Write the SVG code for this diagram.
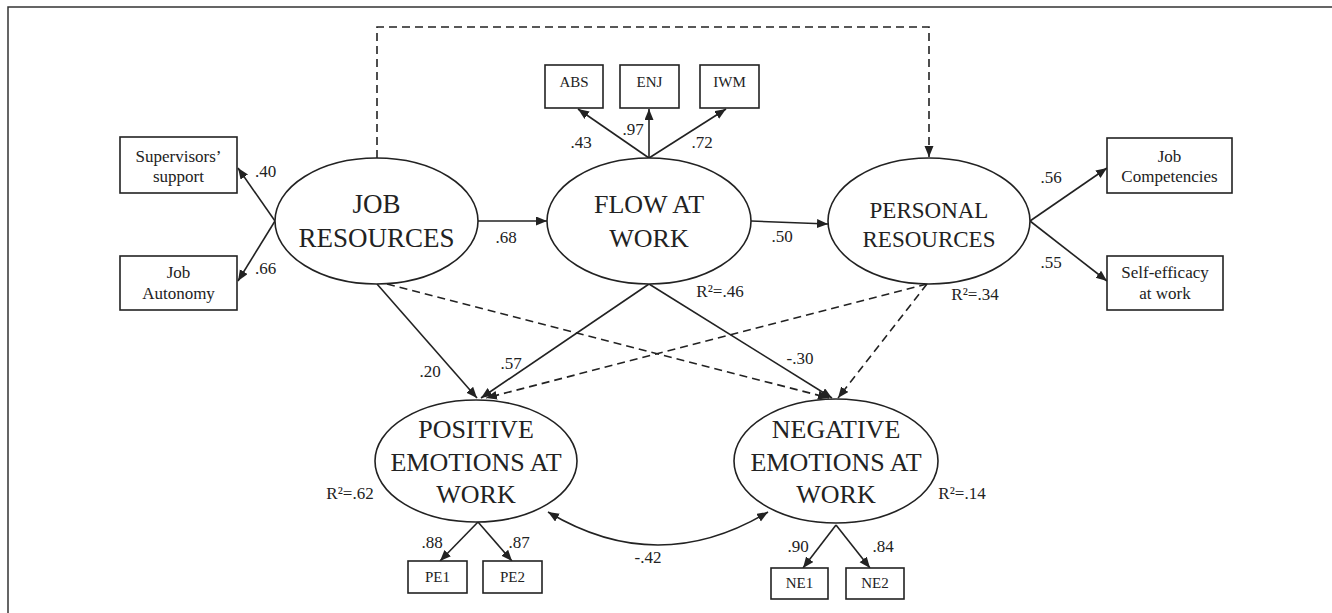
<svg xmlns="http://www.w3.org/2000/svg" width="1332" height="613" viewBox="0 0 1332 613" font-family="'Liberation Serif', 'Times New Roman', Times, 'DejaVu Serif', serif">
<style>
  .frame{stroke:#333;stroke-width:1.5;fill:none}
  .box{fill:#fff;stroke:#222;stroke-width:1.6}
  .ell{fill:#fff;stroke:#222;stroke-width:1.6}
  .ln{stroke:#222;stroke-width:1.6;fill:none}
  .dash{stroke:#222;stroke-width:1.6;fill:none;stroke-dasharray:8 5}
  text{fill:#222;text-anchor:middle}
  .big{font-size:26px}
  .jr{font-size:27px}
  .pr{font-size:23px}
  .bt{font-size:17px}
  .sm{font-size:15px}
  .lab{font-size:17px}
</style>
<defs>
  <marker id="ah" markerUnits="userSpaceOnUse" markerWidth="12" markerHeight="10" refX="11" refY="4.5" orient="auto-start-reverse">
    <path d="M0,0 L11,4.5 L0,9 z" fill="#222"/>
  </marker>
</defs>
<rect width="1332" height="613" fill="#fff"/>
<path class="frame" d="M8,613 L8,7 L1332,7"/>

<g id="connectors">
  <path class="dash" d="M377,158 L377,27 L929,27 L929,157" marker-end="url(#ah)"/>
  <line class="ln" x1="275" y1="221" x2="238" y2="168" marker-end="url(#ah)"/>
  <line class="ln" x1="275" y1="221" x2="238" y2="281" marker-end="url(#ah)"/>
  <line class="ln" x1="649" y1="158" x2="578" y2="109" marker-end="url(#ah)"/>
  <line class="ln" x1="649" y1="158" x2="649" y2="109" marker-end="url(#ah)"/>
  <line class="ln" x1="649" y1="158" x2="726" y2="109" marker-end="url(#ah)"/>
  <line class="ln" x1="478" y1="221" x2="547" y2="221" marker-end="url(#ah)"/>
  <line class="ln" x1="751" y1="221" x2="828" y2="224" marker-end="url(#ah)"/>
  <line class="ln" x1="1030" y1="221" x2="1107" y2="168" marker-end="url(#ah)"/>
  <line class="ln" x1="1030" y1="221" x2="1107" y2="281" marker-end="url(#ah)"/>
  <line class="ln" x1="377" y1="284" x2="477" y2="398" marker-end="url(#ah)"/>
  <line class="ln" x1="649" y1="284" x2="481" y2="398" marker-end="url(#ah)"/>
  <line class="dash" x1="927" y1="284" x2="486" y2="398" marker-end="url(#ah)"/>
  <line class="dash" x1="387" y1="284" x2="829" y2="398" marker-end="url(#ah)"/>
  <line class="ln" x1="649" y1="284" x2="832" y2="398" marker-end="url(#ah)"/>
  <line class="dash" x1="927" y1="284" x2="838" y2="398" marker-end="url(#ah)"/>
  <path class="ln" d="M548,512 Q658,578 768,512" marker-start="url(#ah)" marker-end="url(#ah)"/>
  <line class="ln" x1="478" y1="522" x2="440" y2="561" marker-end="url(#ah)"/>
  <line class="ln" x1="478" y1="522" x2="512" y2="561" marker-end="url(#ah)"/>
  <line class="ln" x1="836" y1="525" x2="803" y2="568" marker-end="url(#ah)"/>
  <line class="ln" x1="836" y1="525" x2="870" y2="568" marker-end="url(#ah)"/>
</g>

<g id="supervisors-support">
  <rect class="box" x="120" y="137" width="117" height="56"/>
  <text class="bt" x="178.5" y="162">Supervisors’</text>
  <text class="bt" x="178.5" y="182">support</text>
</g>
<g id="job-autonomy">
  <rect class="box" x="120" y="256" width="117" height="54"/>
  <text class="bt" x="178.5" y="278">Job</text>
  <text class="bt" x="178.5" y="299">Autonomy</text>
</g>
<g id="job-resources">
  <ellipse class="ell" cx="376.5" cy="221" rx="101.5" ry="63"/>
  <text class="jr" x="376.5" y="213">JOB</text>
  <text class="jr" x="376.5" y="247">RESOURCES</text>
</g>
<g id="abs">
  <rect class="box" x="545" y="65" width="58" height="43"/>
  <text class="sm" x="574" y="87">ABS</text>
</g>
<g id="enj">
  <rect class="box" x="620" y="65" width="59" height="43"/>
  <text class="sm" x="649.5" y="87">ENJ</text>
</g>
<g id="iwm">
  <rect class="box" x="700" y="65" width="59" height="43"/>
  <text class="sm" x="729.5" y="87">IWM</text>
</g>
<g id="flow-at-work">
  <ellipse class="ell" cx="649" cy="221" rx="102" ry="63"/>
  <text class="big" x="649" y="213">FLOW AT</text>
  <text class="big" x="649" y="247">WORK</text>
</g>
<g id="personal-resources">
  <ellipse class="ell" cx="929" cy="221" rx="101" ry="63"/>
  <text class="pr" x="929" y="218">PERSONAL</text>
  <text class="pr" x="929" y="247">RESOURCES</text>
</g>
<g id="job-competencies">
  <rect class="box" x="1107" y="138" width="125" height="55"/>
  <text class="bt" x="1169.5" y="162">Job</text>
  <text class="bt" x="1169.5" y="182">Competencies</text>
</g>
<g id="self-efficacy">
  <rect class="box" x="1107" y="256" width="116" height="54"/>
  <text class="bt" x="1165" y="278">Self-efficacy</text>
  <text class="bt" x="1165" y="299">at work</text>
</g>
<g id="positive-emotions">
  <ellipse class="ell" cx="476" cy="461" rx="101" ry="61"/>
  <text class="big" x="476" y="438">POSITIVE</text>
  <text class="big" x="476" y="471">EMOTIONS AT</text>
  <text class="big" x="476" y="503">WORK</text>
</g>
<g id="negative-emotions">
  <ellipse class="ell" cx="836" cy="461" rx="102" ry="62"/>
  <text class="big" x="836" y="438">NEGATIVE</text>
  <text class="big" x="836" y="471">EMOTIONS AT</text>
  <text class="big" x="836" y="503">WORK</text>
</g>
<g id="pe1">
  <rect class="box" x="408" y="561" width="59" height="32"/>
  <text class="sm" x="437.5" y="582">PE1</text>
</g>
<g id="pe2">
  <rect class="box" x="483" y="561" width="59" height="32"/>
  <text class="sm" x="512.5" y="582">PE2</text>
</g>
<g id="ne1">
  <rect class="box" x="771" y="568" width="57" height="31"/>
  <text class="sm" x="799.5" y="588">NE1</text>
</g>
<g id="ne2">
  <rect class="box" x="846" y="568" width="58" height="31"/>
  <text class="sm" x="875" y="588">NE2</text>
</g>

<g id="labels">
  <text class="lab" x="265.5" y="177">.40</text>
  <text class="lab" x="265.5" y="274">.66</text>
  <text class="lab" x="581" y="148">.43</text>
  <text class="lab" x="633" y="135">.97</text>
  <text class="lab" x="702" y="148">.72</text>
  <text class="lab" x="506" y="243">.68</text>
  <text class="lab" x="782" y="242">.50</text>
  <text class="lab" x="720" y="297">R²=.46</text>
  <text class="lab" x="1051" y="183">.56</text>
  <text class="lab" x="1051" y="268">.55</text>
  <text class="lab" x="975" y="300">R²=.34</text>
  <text class="lab" x="430" y="377">.20</text>
  <text class="lab" x="511" y="369">.57</text>
  <text class="lab" x="800" y="364">-.30</text>
  <text class="lab" x="350" y="499">R²=.62</text>
  <text class="lab" x="962" y="499">R²=.14</text>
  <text class="lab" x="432" y="548">.88</text>
  <text class="lab" x="519" y="548">.87</text>
  <text class="lab" x="648" y="563">-.42</text>
  <text class="lab" x="798" y="552">.90</text>
  <text class="lab" x="883" y="552">.84</text>
</g>
</svg>
